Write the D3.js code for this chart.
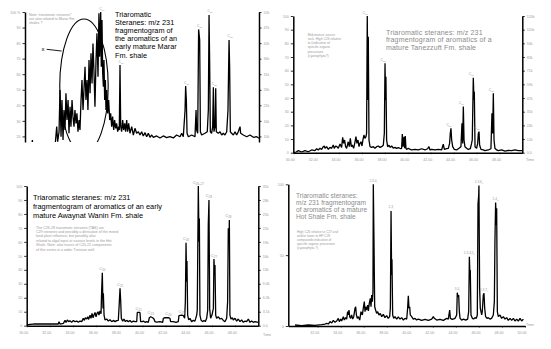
<!DOCTYPE html>
<html><head><meta charset="utf-8">
<script src="https://cdn.jsdelivr.net/npm/d3@7"></script>
<style>
body{margin:0;background:#fff}
svg{display:block}
text{font-family:"Liberation Sans",Arial,sans-serif}
</style>
</head><body>
<svg id="c" width="551" height="349"></svg>
<script>
// ---------------- DATA (retention time in min, relative abundance in %) ----------------
const p1Trace = [[30.00,13],[30.57,13],[30.63,17.7],[30.68,13],[32.56,13],[32.71,26.3],[32.79,16.6],[32.91,23.0],[32.99,49.8],[33.08,19.8],[33.16,43.4],[33.25,17.7],[33.33,37.0],[33.42,24.1],[33.50,47.7],[33.59,30.5],[33.68,43.4],[33.76,22.0],[33.85,39.1],[33.93,26.3],[34.02,43.4],[34.10,32.7],[34.19,26.3],[34.27,37.0],[34.36,28.4],[34.44,34.8],[34.53,23.0],[34.62,30.5],[34.70,24.1],[34.79,43.4],[34.87,56.3],[34.96,37.0],[35.04,49.8],[35.13,64.8],[35.21,43.4],[35.30,56.3],[35.38,37.0],[35.47,69.1],[35.56,47.7],[35.64,73.4],[35.73,54.1],[35.81,79.8],[35.90,60.6],[35.98,39.1],[36.07,69.1],[36.15,86.3],[36.24,58.4],[36.32,99.2],[36.38,71.3],[36.47,100],[36.52,64.8],[36.58,94.8],[36.64,60.6],[36.70,52.0],[36.75,69.1],[36.81,43.4],[36.87,56.3],[36.92,37.0],[36.98,49.8],[37.07,34.8],[37.15,43.4],[37.24,30.5],[37.32,34.8],[37.41,26.3],[37.49,32.7],[37.58,24.1],[37.66,30.5],[37.75,25.2],[37.83,28.4],[37.92,23.0],[38.01,26.3],[38.06,24.1],[38.12,65.9],[38.18,26.3],[38.26,23.0],[38.35,30.5],[38.43,24.1],[38.52,28.4],[38.60,23.0],[38.69,30.5],[38.77,23.0],[38.86,28.4],[38.97,22.0],[39.12,26.3],[39.26,20.9],[39.40,25.2],[39.54,22.0],[39.69,23.0],[39.83,20.9],[39.97,23.0],[40.11,20.3],[40.26,22.4],[40.40,19.8],[40.54,22.0],[40.68,19.4],[40.83,20.9],[40.97,19.4],[41.25,20.3],[41.54,19.0],[41.82,20.3],[42.11,19.2],[42.39,19.8],[42.68,19.0],[42.96,20.9],[43.25,19.8],[43.39,22.0],[43.53,19.8],[43.68,37.0],[43.73,52.4],[43.79,43.4],[43.85,22.0],[43.96,19.8],[44.25,20.9],[44.53,19.8],[44.62,37.0],[44.67,24.1],[44.76,22.0],[44.84,88.8],[44.93,82.0],[44.99,23.0],[45.10,20.9],[45.38,22.0],[45.58,23.0],[45.67,37.0],[45.73,98.1],[45.78,69.1],[45.84,23.0],[45.95,22.0],[46.04,26.3],[46.10,51.6],[46.15,23.0],[46.24,26.3],[46.30,50.9],[46.35,23.0],[46.52,22.0],[46.67,23.0],[46.81,20.9],[46.95,22.0],[47.09,20.9],[47.24,23.0],[47.35,37.0],[47.44,82.0],[47.49,64.8],[47.55,23.0],[47.66,22.0],[47.81,20.9],[47.95,23.0],[48.09,20.9],[48.23,23.0],[48.38,26.3],[48.43,22.0],[48.66,20.9],[48.95,19.8],[49.23,20.9],[49.52,19.4],[49.80,19.8],[50.00,18.8]];

const p2Trace = [[30.00,0.7],[30.15,0],[30.44,1.5],[30.73,0.5],[31.02,1.5],[31.31,0.7],[31.60,2.0],[31.89,1.5],[32.04,2.9],[32.18,2.0],[32.33,3.2],[32.47,2.4],[32.62,4.4],[32.71,4.9],[32.77,3.2],[32.91,4.4],[33.06,2.4],[33.20,3.9],[33.35,3.2],[33.49,5.6],[33.58,3.2],[33.70,4.9],[33.81,4.4],[33.93,3.2],[34.08,6.3],[34.22,3.9],[34.31,11.2],[34.40,6.8],[34.48,9.3],[34.57,4.4],[34.66,3.2],[34.80,8.0],[34.89,4.4],[34.98,10.5],[35.07,4.4],[35.15,5.6],[35.27,3.2],[35.39,8.0],[35.47,11.7],[35.56,6.8],[35.65,9.3],[35.74,4.4],[35.82,6.8],[35.91,8.0],[36.00,4.9],[36.08,9.3],[36.17,12.9],[36.26,10.5],[36.35,11.7],[36.40,14.1],[36.46,100],[36.52,38.5],[36.55,84.9],[36.61,9.3],[36.70,4.4],[36.84,3.9],[36.99,4.4],[37.13,3.2],[37.28,4.4],[37.42,4.9],[37.57,3.9],[37.71,4.4],[37.86,5.4],[37.95,14.1],[38.01,65.4],[38.06,38.5],[38.09,55.6],[38.15,9.3],[38.24,4.4],[38.36,5.4],[38.47,3.9],[38.59,4.9],[38.73,3.4],[38.88,3.9],[39.02,3.2],[39.17,3.7],[39.40,2.9],[39.46,3.2],[39.52,13.7],[39.58,4.4],[39.67,11.7],[39.72,3.2],[39.78,12.2],[39.84,3.2],[39.90,2.4],[40.04,3.2],[40.33,2.0],[40.63,2.4],[40.92,2.0],[41.21,2.9],[41.50,2.0],[41.73,2.9],[41.85,4.4],[41.94,2.0],[42.08,2.4],[42.37,2.0],[42.66,2.4],[42.95,2.0],[43.10,6.3],[43.19,2.4],[43.39,2.9],[43.54,3.2],[43.65,6.8],[43.71,14.1],[43.77,17.8],[43.83,9.3],[43.92,4.4],[44.06,2.4],[44.26,2.0],[44.47,3.2],[44.64,4.4],[44.73,21.5],[44.79,6.8],[44.85,33.7],[44.91,9.3],[44.99,4.4],[45.14,3.2],[45.28,2.4],[45.46,2.9],[45.57,6.8],[45.63,9.3],[45.72,54.9],[45.78,38.5],[45.81,44.6],[45.87,4.4],[46.01,3.2],[46.10,6.8],[46.16,14.1],[46.22,15.4],[46.27,5.6],[46.39,2.4],[46.59,2.0],[46.74,1.5],[47.03,2.0],[47.26,2.9],[47.35,28.8],[47.41,14.1],[47.47,43.4],[47.53,9.3],[47.61,3.2],[47.76,2.0],[47.90,1.5],[48.20,2.0],[48.49,1.2],[48.78,1.7],[49.07,1.5],[49.36,2.0],[49.65,1.5],[50.00,1.5]];

const p3Trace = [[30.00,0.5],[30.29,1.0],[30.58,1.2],[31.15,1.2],[31.73,1.2],[32.30,1.2],[32.73,1.2],[32.79,2.9],[32.88,1.2],[33.17,1.7],[33.31,3.8],[33.40,2.4],[33.51,4.1],[33.63,2.9],[33.74,3.6],[33.88,2.4],[34.03,3.8],[34.17,2.9],[34.32,3.3],[34.46,2.4],[34.60,3.3],[34.75,2.9],[34.89,5.3],[34.98,3.8],[35.06,5.7],[35.18,4.8],[35.27,6.4],[35.35,4.5],[35.47,7.6],[35.55,5.3],[35.64,8.8],[35.73,5.7],[35.81,7.6],[35.90,9.5],[35.99,6.4],[36.07,8.8],[36.16,10.0],[36.24,7.6],[36.33,10.5],[36.42,8.6],[36.47,24.3],[36.53,37.9],[36.59,12.4],[36.62,23.2],[36.68,7.6],[36.76,4.1],[36.91,4.8],[37.05,3.3],[37.19,4.3],[37.34,2.9],[37.48,3.8],[37.63,2.9],[37.77,3.6],[37.91,3.8],[37.97,12.4],[38.06,26.7],[38.12,17.2],[38.17,5.3],[38.29,3.3],[38.40,4.8],[38.52,2.9],[38.63,3.8],[38.78,2.9],[38.92,3.8],[39.06,2.4],[39.21,3.3],[39.35,2.9],[39.50,2.9],[39.55,9.5],[39.67,9.5],[39.78,9.5],[39.84,2.9],[39.99,2.9],[40.07,3.3],[40.22,2.4],[40.36,2.9],[40.50,2.4],[40.59,5.7],[40.71,6.4],[40.88,5.7],[40.99,4.8],[41.08,2.9],[41.22,2.6],[41.51,2.9],[41.74,2.4],[41.80,5.3],[41.94,5.7],[42.23,5.7],[42.37,5.3],[42.43,2.9],[42.66,2.9],[42.89,2.4],[43.09,2.9],[43.15,7.2],[43.38,7.6],[43.53,7.2],[43.64,5.3],[43.70,17.2],[43.76,59.4],[43.81,31.5],[43.84,46.3],[43.90,7.6],[43.99,4.1],[44.10,5.3],[44.24,2.9],[44.39,3.8],[44.53,3.3],[44.68,7.6],[44.73,11.2],[44.82,100],[44.88,60.1],[44.91,76.8],[44.96,7.6],[45.05,4.1],[45.19,2.9],[45.31,3.8],[45.42,2.9],[45.54,5.3],[45.63,11.2],[45.68,72.1],[45.74,90.0],[45.80,12.4],[45.88,5.3],[46.00,7.6],[46.12,12.4],[46.17,47.7],[46.23,36.3],[46.26,43.4],[46.32,7.6],[46.40,5.3],[46.55,6.4],[46.69,4.8],[46.83,5.3],[46.98,3.8],[47.12,2.9],[47.27,5.3],[47.35,17.2],[47.41,69.7],[47.47,60.1],[47.50,75.7],[47.55,7.6],[47.64,4.8],[47.76,5.7],[47.84,4.1],[47.99,5.3],[48.13,3.3],[48.27,4.8],[48.42,2.9],[48.56,4.1],[48.71,2.4],[48.85,3.3],[48.99,2.9],[49.14,4.8],[49.28,2.4],[49.42,3.3],[49.57,2.4],[49.71,2.9],[50.00,2.4]];

const p4Trace = [[30.03,0.7],[30.61,0.2],[31.19,0.7],[31.77,0.5],[32.35,0.9],[32.64,1.4],[32.78,1.9],[32.93,1.4],[33.07,3.1],[33.22,2.1],[33.36,4.0],[33.50,2.6],[33.65,3.5],[33.79,5.4],[33.88,3.1],[34.00,4.9],[34.08,3.5],[34.23,6.6],[34.31,4.2],[34.43,5.9],[34.52,4.9],[34.60,10.1],[34.66,7.8],[34.72,11.3],[34.78,6.6],[34.86,5.4],[34.95,7.8],[35.04,4.9],[35.13,6.6],[35.24,12.5],[35.30,13.6],[35.36,7.8],[35.44,5.4],[35.53,6.6],[35.65,4.2],[35.76,10.1],[35.88,7.8],[35.96,12.5],[36.05,17.2],[36.11,10.1],[36.17,13.6],[36.25,11.3],[36.34,14.8],[36.40,10.6],[36.48,16.0],[36.57,19.5],[36.63,13.6],[36.69,21.9],[36.75,17.2],[36.80,24.2],[36.83,100],[36.89,59.5],[36.92,36.0],[36.95,13.6],[37.03,11.3],[37.12,8.9],[37.21,10.1],[37.32,7.8],[37.44,8.9],[37.56,6.6],[37.70,8.2],[37.84,5.9],[37.99,7.3],[38.13,5.4],[38.25,6.6],[38.31,12.5],[38.37,81.2],[38.42,36.0],[38.45,47.1],[38.51,7.8],[38.60,5.4],[38.71,6.6],[38.86,4.9],[39.00,6.4],[39.15,4.9],[39.29,5.9],[39.44,4.2],[39.58,5.4],[39.73,4.9],[39.81,12.5],[39.87,21.4],[39.93,12.5],[39.99,13.6],[40.04,7.8],[40.16,6.6],[40.30,4.9],[40.45,5.4],[40.59,4.2],[40.74,4.9],[41.03,4.0],[41.32,4.7],[41.61,4.0],[41.90,4.9],[42.04,6.6],[42.13,5.4],[42.33,4.2],[42.62,4.7],[42.91,4.0],[43.20,5.4],[43.34,4.9],[43.46,11.3],[43.52,5.4],[43.69,4.7],[43.92,5.4],[44.07,7.8],[44.12,23.5],[44.18,20.7],[44.24,21.9],[44.30,10.1],[44.36,5.4],[44.50,4.2],[44.67,4.9],[44.85,4.2],[45.02,4.9],[45.11,10.1],[45.17,48.9],[45.22,36.0],[45.25,39.5],[45.31,7.8],[45.43,5.4],[45.54,4.9],[45.66,5.9],[45.77,5.4],[45.86,7.8],[45.92,85.9],[45.98,92.5],[46.00,99.1],[46.06,26.6],[46.12,12.5],[46.18,10.1],[46.24,7.8],[46.29,10.1],[46.38,21.9],[46.44,23.1],[46.50,12.5],[46.58,6.6],[46.70,5.4],[46.81,5.9],[46.96,4.9],[47.10,5.4],[47.25,7.8],[47.34,17.2],[47.39,59.5],[47.45,87.1],[47.51,71.3],[47.54,83.1],[47.60,10.1],[47.68,6.6],[47.83,7.8],[47.97,5.4],[48.12,6.6],[48.26,4.9],[48.41,5.9],[48.55,4.0],[48.70,5.4],[48.84,4.0],[48.99,5.4],[49.13,3.5],[49.28,4.9],[49.42,3.5],[49.57,5.4],[49.71,3.5],[49.86,4.9]];

// peak labels: [time, abundance, label, subscript]
const p1Labels = [[36.47,100,"C","20"],[38.12,65.9,"C","21"],[43.73,52.4,"C","26"],[44.84,88.8,"C","26"],[45.73,98.1,"C","27"],[46.10,51.6,"C","28"],[47.44,82.0,"C","28"]];
const p2Labels = [[36.46,100,"C","20"],[38.01,65.4,"C","21"],[43.77,17.8,"C","26"],[44.85,33.7,"C","26"],[45.72,54.9,"C","27"],[46.22,15.4,"C","28"],[47.47,43.4,"C","28"]];
const p3Labels = [[36.53,37.9,"C","20"],[38.06,26.7,"C","21"],[39.67,9.5,"C","22"],[40.71,6.4,"C","23"],[42.23,5.7,"C","24"],[43.38,7.6,"C","25"],[43.76,59.4,"C","26"],[44.82,100,"C","26+27"],[45.74,90.0,"C","28"],[46.17,47.7,"C","27"],[47.41,75.7,"C","28"]];
const p4Labels = [[36.83,100,"2,3,4","I"],[38.37,81.2,"2,3","I"],[44.12,23.5,"3,4","I"],[45.17,48.9,"2,3,4,5","II"],[46.00,99.1,"2,3,6","II"],[46.44,23.1,"2,3,7","II"],[47.45,87.1,"2,4","III"]];

// axis ticks
const pctTicks = [0,10,20,30,40,50,60,70,80,90,100];
const p1YTicks = [20,30,40,50,60,70,80,90,100];
const p4YTicks = [0,50,100];
const p2XTicks = [30,32,34,36,38,40,42,44,46,48];
const p3XTicks = [30,32,34,36,38,40,42,44,46,48];
const p4XTicks = [32,34,36,38,40,42,44,46,48,50];
const p1RightMax = 52000, p2RightMax = 118000, p3RightMax = 31400;

// annotations (panel 1): ellipse [t, v, half-width min, half-height %], marker
const p1Ellipse = [35.04, 52.4, 2.07, 43.1];
const p1Marker = [31.54, 76.2];
const p1MarkerLine = [[31.85,76.0],[33.13,74.9]];

// texts
const p1Title = ["Triaromatic","Steranes: m/z 231","fragmentogram of","the aromatics of an","early mature Marar","Fm. shale"];
const p1Note = ["Note: triaromatic steranes*","are also related to Marar Fm.","shales ?"];
const p2Title = ["Triaromatic steranes: m/z 231","fragmentogram of aromatics of a","mature Tanezzuft Fm. shale"];
const p2Note = ["Mid-mature source","rock. High C26 relative","to (indicative of","specific organic","precursors","(cyanophyta?)"];
const p3Title = ["Triaromatic steranes: m/z 231","fragmentogram of aromatics of an early","mature Awaynat Wanin Fm. shale"];
const p3Note = ["The C26-28 triaromatic steranes (TAS) are","C29 steranes and possibly a derivative of the mixed","land plant influence, but possibly also","related to algal input at various levels in the Hot","Shale. Note: also traces of C20-22 components","of this series in a wider Tunisian well."];
const p4Title = ["Triaromatic steranes:","m/z 231 fragmentogram","of aromatics of a mature","Hot Shale Fm. shale"];
const p4Note = ["High C26 relative to C27 and","and/or lower to HF C28","compounds indicative of","specific organic precursors","(cyanophyta ?)"];

// ---------------- DRAWING ----------------
const svg = d3.select("#c");
const defs = svg.append("defs");
const GRAY = "#9a9a9a";

function styleAxis(g, fs) {
  g.select(".domain").attr("stroke","#000").attr("stroke-width",1.5);
  g.selectAll(".tick line").attr("stroke","#000").attr("stroke-width",0.8);
  g.selectAll(".tick text").attr("fill",GRAY).attr("font-size",fs||3.6).attr("font-family","Liberation Sans, Arial, sans-serif");
}

function textBlock(lines, x, y0, dy, size, color, extra) {
  const t = svg.append("text").attr("font-size", size).attr("fill", color);
  if (extra) extra(t);
  lines.forEach((l,i) => t.append("tspan").attr("x", x).attr("y", y0 + i*dy).text(l));
  return t;
}

function drawPanel(o) {
  const x = d3.scaleLinear().domain(o.xDomain).range([o.left, o.right]);
  const y = d3.scaleLinear().domain([0,100]).range([o.zeroY, o.topY]);
  const clipB = o.clipBottom;
  const yAx = y.copy().domain([y.invert(clipB), 100]).range([clipB, o.topY]);
  const cid = "clip" + o.id;
  defs.append("clipPath").attr("id", cid).append("rect")
    .attr("x", o.left).attr("y", o.topY - 4)
    .attr("width", o.right - o.left).attr("height", clipB - o.topY + 4);

  const g = svg.append("g");
  g.append("path").datum(o.trace)
    .attr("clip-path", `url(#${cid})`)
    .attr("fill","none").attr("stroke","#000").attr("stroke-width",1.3)
    .attr("stroke-linejoin","bevel")
    .attr("d", d3.line().x(d => x(d[0])).y(d => y(d[1])));

  // left axis
  const la = g.append("g").attr("transform", `translate(${o.left},0)`)
    .call(d3.axisLeft(yAx).tickValues(o.yTicks).tickSize(2.5).tickSizeOuter(0).tickPadding(2).tickFormat(o.yFmt));
  styleAxis(la);

  // right axis
  if (o.rightMax) {
    const yr = d3.scaleLinear().domain([0, o.rightMax]).range([o.zeroY, o.topY]);
    const yrAx = yr.copy().domain([yr.invert(clipB), o.rightMax]).range([clipB, o.topY]);
    const rt = o.yTicks.map(v => v / 100 * o.rightMax);
    const ra = g.append("g").attr("transform", `translate(${o.right},0)`)
      .call(d3.axisRight(yrAx).tickValues(rt).tickSize(2.5).tickSizeOuter(0).tickPadding(2).tickFormat(d3.format(".2s")));
    styleAxis(ra);
  }

  // bottom axis
  if (o.xTicks) {
    const ba = g.append("g").attr("transform", `translate(0,${o.zeroY})`)
      .call(d3.axisBottom(x).tickValues(o.xTicks).tickSize(1.5).tickSizeOuter(0).tickPadding(4).tickFormat(d3.format(".2f")));
    styleAxis(ba);
    ba.selectAll(".tick text").attr("dx", -3.5);
    svg.append("text").attr("x", o.timePos[0]).attr("y", o.timePos[1])
      .attr("font-size", 3.6).attr("fill", GRAY).attr("text-anchor","middle").text("Time");
  }

  // peak labels
  o.labels.forEach(d => {
    const t = g.append("text").attr("x", x(d[0]) + (o.labelDx||0)).attr("y", y(d[1]) - 2.5)
      .attr("text-anchor","middle").attr("fill", GRAY).attr("font-size", o.labelSize || 3.4);
    t.append("tspan").text(d[2]);
    t.append("tspan").attr("font-size", (o.labelSize||3.4)*0.7).attr("dy", 1).text(d[3]);
  });
  return {x, y, cid};
}

// Panel 1 (top-left)
const P1 = drawPanel({id:1, trace:p1Trace, xDomain:[30,50], left:25, right:259, topY:12, zeroY:167.5, clipBottom:142,
  yTicks:p1YTicks, yFmt:d => d === 100 ? "100 %" : d, rightMax:p1RightMax, labels:p1Labels, labelDx:1});
svg.append("ellipse").attr("clip-path", `url(#${P1.cid})`)
  .attr("cx", P1.x(p1Ellipse[0])).attr("cy", P1.y(p1Ellipse[1]))
  .attr("rx", P1.x(p1Ellipse[0] + p1Ellipse[2]) - P1.x(p1Ellipse[0]))
  .attr("ry", P1.y(p1Ellipse[1] - p1Ellipse[3]) - P1.y(p1Ellipse[1]))
  .attr("fill","none").attr("stroke","#000").attr("stroke-width",1.1);
svg.append("path").datum(p1MarkerLine)
  .attr("d", d3.line().x(d => P1.x(d[0])).y(d => P1.y(d[1])))
  .attr("stroke","#000").attr("stroke-width",0.9).attr("fill","none");
svg.append("text").attr("x", P1.x(p1Marker[0])).attr("y", P1.y(p1Marker[1]) + 2)
  .attr("font-size", 6).attr("fill","#000").attr("text-anchor","middle").text("x");
textBlock(p1Title, 115, 16.5, 8.2, 7.3, "#000");
textBlock(p1Note, 29, 15.5, 4.3, 3.6, GRAY);

// Panel 2 (top-right)
drawPanel({id:2, trace:p2Trace, xDomain:[30,50], left:293.3, right:522.3, topY:16, zeroY:152.7, clipBottom:152.7,
  yTicks:pctTicks, yFmt:d => d, rightMax:p2RightMax, xTicks:p2XTicks, timePos:[530,160.5], labels:p2Labels, labelDx:-2});
textBlock(p2Title, 386, 34.5, 7.7, 7, "#8c8c8c", t => t.attr("letter-spacing", 0.15));
textBlock(p2Note, 307.7, 35.5, 4.3, 3.3, GRAY);

// Panel 3 (bottom-left)
drawPanel({id:3, trace:p3Trace, xDomain:[30,50], left:26.7, right:258.3, topY:186, zeroY:325.7, clipBottom:325.7,
  yTicks:pctTicks, yFmt:d => d, rightMax:p3RightMax, xTicks:p3XTicks, timePos:[267,335.5], labels:p3Labels, labelSize:4.2});
textBlock(p3Title, 33, 199.5, 9.4, 7.4, "#000");
textBlock(p3Note, 36, 228.5, 4.4, 3.6, GRAY);

// Panel 4 (bottom-right)
drawPanel({id:4, trace:p4Trace, xDomain:[29.45,50], left:288.3, right:525, topY:184.3, zeroY:326, clipBottom:326,
  yTicks:p4YTicks, yFmt:d => d, xTicks:p4XTicks, timePos:[530,326], labels:p4Labels, labelSize:3.2});
textBlock(p4Title, 296, 197.5, 7.2, 6.6, "#8c8c8c");
textBlock(p4Note, 297, 233, 3.9, 3.2, GRAY);
</script>
</body></html>
